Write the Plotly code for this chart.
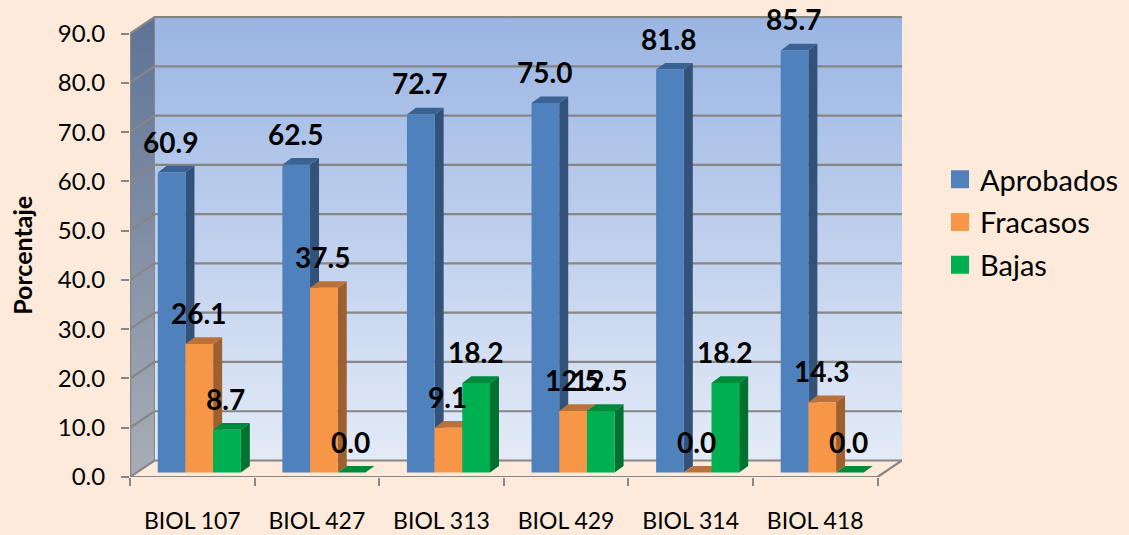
import plotly.graph_objects as go

categories = ["BIOL 107", "BIOL 427", "BIOL 313", "BIOL 429", "BIOL 314", "BIOL 418"]
aprobados = [60.9, 62.5, 72.7, 75.0, 81.8, 85.7]
fracasos = [26.1, 37.5, 9.1, 12.5, 0.0, 14.3]
bajas = [8.7, 0.0, 18.2, 12.5, 18.2, 0.0]
y_ticks = [0, 10, 20, 30, 40, 50, 60, 70, 80, 90]
series = [
    ("Aprobados", aprobados, "#4F81BD", "#325279", "#3A6394"),
    ("Fracasos", fracasos, "#F79646", "#9E602E", "#B9733A"),
    ("Bajas", bajas, "#00B050", "#00712F", "#008A3C"),
]

W, H = 1129, 535
PX_L, PX_R, PX_T, PX_B = 129.5, 902.0, 15.7, 476.7
BG = "#FDEADA"
GRID = "#868686"
FONT = "Lato"
N = len(categories)
cat_px = (877.5 - 129.5) / N
val_px = (476.7 - 33.3) / 90
wall_dx = (PX_R - 877.5) / cat_px
wall_dy = 16.5 / val_px
bar_w = 27.7 / cat_px
bar_start = 27.8 / cat_px
bar_dx = 9.0 / cat_px
bar_dy = 6.7 / val_px
bar_base = 4.4 / val_px
x_range = [0, N + wall_dx]
y_range = [0, (PX_B - PX_T) / val_px]

fig = go.Figure()


def poly(xs, ys, **kw):
    fig.add_trace(go.Scatter(x=xs, y=ys, mode="lines", fill="toself", line=dict(width=0),
                             showlegend=False, hoverinfo="skip", **kw))


def line(xs, ys, width=2.2):
    fig.add_trace(go.Scatter(x=xs, y=ys, mode="lines", line=dict(color=GRID, width=width),
                             showlegend=False, hoverinfo="skip", cliponaxis=False))


# walls
top = y_ticks[-1] + wall_dy
poly([wall_dx, N + wall_dx, N + wall_dx, wall_dx, wall_dx], [wall_dy, wall_dy, top, top, wall_dy],
     fillgradient=dict(type="vertical", colorscale=[[0, "#E4EBF7"], [1, "#9AB5E3"]]))
poly([0, wall_dx, wall_dx, 0, 0], [0, wall_dy, top, y_ticks[-1], 0],
     fillgradient=dict(type="vertical", colorscale=[[0, "#A9AEB5"], [1, "#5D7396"]]))

# grid lines on both walls
for t in y_ticks:
    line([0, wall_dx, N + wall_dx], [t, t + wall_dy, t + wall_dy])
line([0, 0], [0, y_ticks[-1]], 2.6)
line([wall_dx, wall_dx], [wall_dy, top], 1)
line([0, N, N + wall_dx], [0, 0, wall_dy])

centers = {}
for k, (name, vals, front, side, cap) in enumerate(series):
    sx, sy, tx, ty, cx = [], [], [], [], []
    for i, v in enumerate(vals):
        left = i + bar_start + k * bar_w
        right = left + bar_w
        cx.append((left + right) / 2)
        b, t = bar_base, bar_base + v
        sx += [right, right + bar_dx, right + bar_dx, right, right, None]
        sy += [b, b + bar_dy, t + bar_dy, t, b, None]
        tx += [left, left + bar_dx, right + bar_dx, right, left, None]
        ty += [t, t + bar_dy, t + bar_dy, t, t, None]
    centers[name] = cx
    poly(sx, sy, fillcolor=side)
    poly(tx, ty, fillcolor=cap)

# front faces on an overlay subplot so that they cover the side faces
for name, vals, front, side, cap in series:
    fig.add_trace(go.Bar(x=centers[name], y=vals, base=bar_base, width=bar_w, name=name,
                         marker=dict(color=front, line=dict(width=0)), showlegend=False,
                         xaxis="x2", yaxis="y2"))

# legend entries
for name, vals, front, side, cap in series:
    fig.add_trace(go.Scatter(x=[None], y=[None], mode="markers", name=name, legendgroup=name,
                             marker=dict(symbol="square", size=16, color=front,
                                         line=dict(color=front, width=2))))

annotations = []
for name, vals, *_ in series:
    for c, v in zip(centers[name], vals):
        annotations.append(dict(x=c - 0.008, y=v + bar_base, xref="x2", yref="y2", text=f"{v:.1f}",
                                showarrow=False, yshift=31, yanchor="middle", xanchor="center",
                                font=dict(family=FONT, size=28, color="#000000", weight="bold")))
annotations.append(dict(x=(22 - PX_L) / (PX_R - PX_L), y=(PX_B - 255) / (PX_B - PX_T),
                        xref="paper", yref="paper", text="<b>Porcentaje</b>",
                        textangle=-90, showarrow=False, xanchor="center", yanchor="middle",
                        font=dict(family=FONT, size=25, color="#000000")))

fig.update_layout(
    width=W, height=H, paper_bgcolor=BG, plot_bgcolor="rgba(0,0,0,0)", barmode="overlay",
    margin=dict(l=PX_L, r=W - PX_R, t=PX_T, b=H - PX_B, pad=0, autoexpand=False),
    font=dict(family=FONT, color="#000000"),
    annotations=annotations,
    legend=dict(xref="container", yref="container", x=940 / W, y=1 - 154 / H, xanchor="left", yanchor="top",
                bgcolor="rgba(0,0,0,0)", font=dict(family=FONT, size=29, color="#000000"),
                tracegroupgap=2, itemwidth=30),
    xaxis=dict(range=x_range, tickmode="array", tickvals=list(range(N + 1)), ticktext=[""] * (N + 1),
               ticks="outside", ticklen=8, tickwidth=2, tickcolor=GRID, showgrid=False,
               zeroline=False, showline=False, fixedrange=True),
    yaxis=dict(range=y_range, tickmode="array", tickvals=y_ticks, ticktext=[f"{t:.1f}" for t in y_ticks],
               ticks="outside", ticklen=8, tickwidth=2, tickcolor=GRID, showgrid=False, zeroline=False,
               showline=False, tickfont=dict(family=FONT, size=24, color="#000000"),
               ticklabelstandoff=11, fixedrange=True),
    xaxis2=dict(range=x_range, overlaying="x", tickmode="array",
                tickvals=[i + 0.5 for i in range(N)], ticktext=categories, ticks="outside", ticklen=23,
                tickcolor="rgba(0,0,0,0)", showgrid=False, zeroline=False, showline=False,
                tickfont=dict(family=FONT, size=23, color="#000000"), fixedrange=True),
    yaxis2=dict(range=y_range, overlaying="y", visible=False, fixedrange=True),
)

fig.write_html("out.html", post_script='document.body.style.margin="0";',
               config={"displayModeBar": False})
